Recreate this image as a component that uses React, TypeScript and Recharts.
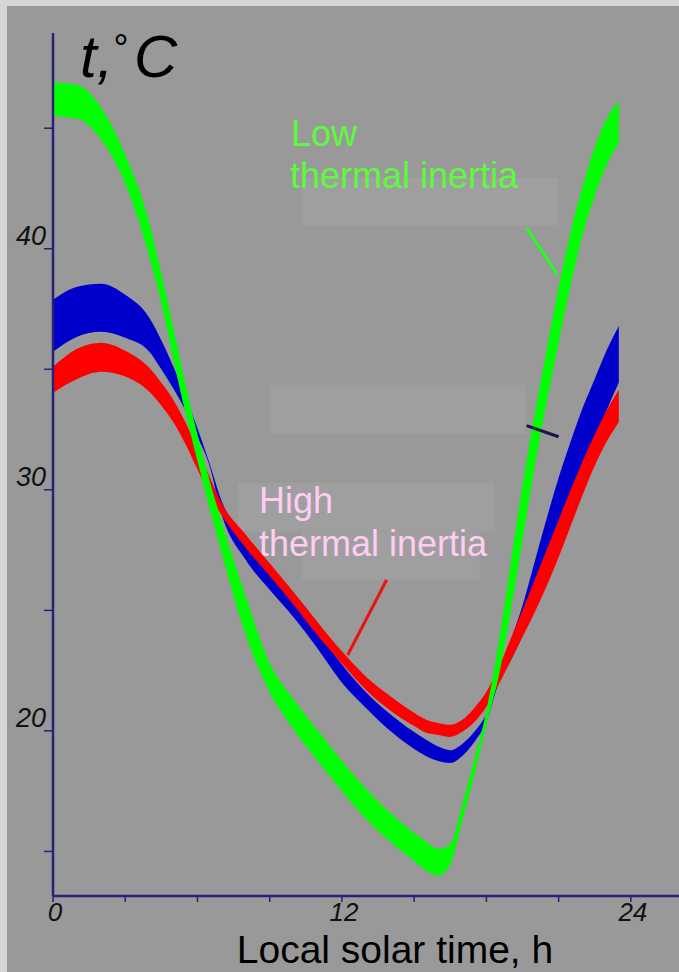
import React from 'react';
import { ComposedChart, Area, XAxis, YAxis, ReferenceArea, ReferenceLine } from 'recharts';

// Local solar time, h
const hours = [0, 1, 2, 3, 4, 4.5, 5, 5.5, 6, 6.5, 7, 8, 9, 10, 11, 12, 13, 14, 15, 15.5, 16, 16.5, 17, 17.5, 18, 18.5, 19, 19.5, 20, 20.5, 21, 21.5, 22, 22.5, 23, 23.5];

// Low thermal inertia (green band)
const lowHi = [46.9, 46.8, 45.85, 43.9, 41.08, 38.96, 36.7, 34.4, 32.3, 30.4, 28.7, 25.6, 22.8, 21.3, 20.0, 18.75, 17.6, 16.6, 15.75, 15.4, 15.1, 15.3, 16.96, 18.8, 20.83, 23.6, 26.9, 30.2, 33.1, 35.8, 38.4, 40.7, 42.6, 44.2, 45.4, 46.1];
const lowLo = [45.5, 45.4, 44.52, 42.7, 39.67, 37.76, 35.4, 33.2, 31.2, 29.25, 27.4, 24.0, 21.6, 20.05, 18.75, 17.5, 16.35, 15.4, 14.6, 14.2, 14.0, 14.45, 16.27, 18.17, 20.25, 22.2, 24.9, 27.9, 30.9, 33.6, 36.1, 38.5, 40.6, 42.2, 43.5, 44.4];

// Intermediate (blue band)
const midHi = [37.88, 38.42, 38.55, 38.09, 37.14, 36.2, 35.1, 33.9, 32.55, 31.1, 29.55, 27.95, 26.7, 25.5, 24.1, 22.75, 21.6, 20.7, 19.95, 19.63, 19.35, 19.2, 19.46, 19.96, 20.7, 22.1, 23.7, 25.2, 27.0, 28.8, 30.5, 32.0, 33.4, 34.6, 35.8, 36.8];
const midLo = [35.73, 36.35, 36.56, 36.31, 35.73, 35.0, 34.2, 33.3, 32.2, 31.0, 29.0, 27.1, 25.85, 24.7, 23.4, 22.0, 20.95, 20.0, 19.25, 18.95, 18.75, 18.67, 18.96, 19.54, 20.37, 21.95, 22.9, 23.95, 25.2, 26.55, 27.95, 29.35, 30.7, 32.0, 33.3, 34.45];

// High thermal inertia (red band)
const highHi = [35.1, 35.85, 36.1, 35.77, 35.06, 34.44, 33.73, 32.8, 31.7, 30.55, 29.45, 28.15, 26.95, 25.75, 24.5, 23.3, 22.25, 21.45, 20.75, 20.46, 20.33, 20.25, 20.46, 20.95, 21.62, 22.6, 23.8, 25.0, 26.25, 27.5, 28.75, 30.0, 31.2, 32.3, 33.3, 34.15];
const highLo = [34.02, 34.6, 34.9, 34.7, 34.07, 33.5, 32.8, 31.9, 30.85, 29.8, 28.95, 27.6, 26.42, 25.22, 23.95, 22.8, 21.7, 20.85, 20.2, 19.92, 19.83, 19.75, 19.96, 20.37, 21.0, 21.9, 22.9, 23.9, 24.9, 26.0, 27.2, 28.5, 29.8, 31.0, 32.0, 32.8];

const xTicks = [0, 3, 6, 9, 12, 15, 18, 21, 24];
const xTickLabels = ['0', '12', '24'];
const yTicks = [15, 20, 25, 30, 35, 40, 45];
const yTickLabels = ['20', '30', '40'];

// annotation boxes / pointers in data units
const boxes = [
  { x1: 10.33, x2: 20.95, y1: 40.95, y2: 42.95 },
  { x1: 9.0, x2: 19.63, y1: 32.32, y2: 34.36 },
  { x1: 7.68, x2: 18.34, y1: 28.26, y2: 30.29 },
  { x1: 10.33, x2: 17.72, y1: 26.27, y2: 28.26 },
];
const pointers = [
  { a: { x: 19.67, y: 40.87 }, b: { x: 20.95, y: 38.92 }, color: '#22ff22' },
  { a: { x: 19.67, y: 32.66 }, b: { x: 21.0, y: 32.2 }, color: '#141450' },
  { a: { x: 13.86, y: 26.27 }, b: { x: 12.24, y: 23.15 }, color: '#ee1111' },
];

const data = hours.map((h, i) => ({
  h,
  low: [lowLo[i], lowHi[i]],
  mid: [midLo[i], midHi[i]],
  high: [highLo[i], highHi[i]],
}));

const AX = '#23237a';
const FONT = '"Liberation Sans", Arial, sans-serif';

const XTick = (props: any) => {
  const { x, y, payload } = props;
  const s = String(payload.value);
  if (!xTickLabels.includes(s)) return <g />;
  return (
    <text x={x + 2} y={y + 17} textAnchor="middle" fontStyle="italic" fontSize={26} fontFamily={FONT} fill="#111">
      {s}
    </text>
  );
};

const YTick = (props: any) => {
  const { x, y, payload } = props;
  const s = String(payload.value);
  if (!yTickLabels.includes(s)) return <g />;
  return (
    <text x={x + 4} y={y - 4} textAnchor="end" fontStyle="italic" fontSize={27} fontFamily={FONT} fill="#111">
      {s}
    </text>
  );
};

export default function App() {
  return (
    <div style={{ position: 'absolute', left: 0, top: 0, width: 679, height: 972, background: '#d6d6d6', overflow: 'hidden' }}>
      <div style={{ position: 'absolute', left: 7, top: 6, width: 672, height: 966, background: '#999999' }} />
      <div style={{ position: 'absolute', left: 0, top: 0 }}>
        <ComposedChart width={679} height={972} data={data} margin={{ top: 33, right: 0, bottom: 46, left: 23 }}>
          {boxes.map((b, i) => (
            <ReferenceArea key={'b' + i} x1={b.x1} x2={b.x2} y1={b.y1} y2={b.y2} fill="#9f9f9f" fillOpacity={1} stroke="none" />
          ))}
          <XAxis
            type="number"
            dataKey="h"
            domain={[0, 26]}
            ticks={xTicks}
            allowDataOverflow
            height={30}
            axisLine={{ stroke: AX, strokeWidth: 2.5 }}
            tickLine={{ stroke: AX, strokeWidth: 1.5 }}
            tickSize={6}
            tick={XTick}
            interval={0}
          />
          <YAxis
            type="number"
            domain={[13.15, 48.95]}
            ticks={yTicks}
            allowDataOverflow
            width={30}
            axisLine={{ stroke: AX, strokeWidth: 2.5 }}
            tickLine={{ stroke: AX, strokeWidth: 1.5 }}
            tickSize={9}
            tick={YTick}
            interval={0}
          />
          <Area type="monotone" dataKey="mid" stroke="none" fill="#0000cc" fillOpacity={1} isAnimationActive={false} />
          <Area type="monotone" dataKey="high" stroke="none" fill="#ff0000" fillOpacity={1} isAnimationActive={false} />
          <Area type="monotone" dataKey="low" stroke="none" fill="#00ff00" fillOpacity={1} isAnimationActive={false} />
          {pointers.map((p, i) => (
            <ReferenceLine key={'p' + i} segment={[p.a, p.b]} stroke={p.color} strokeWidth={3} />
          ))}
        </ComposedChart>
      </div>
      <svg width={679} height={972} style={{ position: 'absolute', left: 0, top: 0, pointerEvents: 'none' }}>
        <text x={80} y={77} fontFamily={FONT} fontStyle="italic" fill="#000" fontSize={60}>t,</text>
        <text x={112} y={61} fontFamily={FONT} fontStyle="italic" fill="#000" fontSize={38}>°</text>
        <text x={134} y={77} fontFamily={FONT} fontStyle="italic" fill="#000" fontSize={60}>C</text>
        <text x={291} y={146} fontFamily={FONT} fontSize={36} fill="#5cfc3c">Low</text>
        <text x={290} y={188} fontFamily={FONT} fontSize={36} fill="#5cfc3c">thermal inertia</text>
        <text x={259} y={513} fontFamily={FONT} fontSize={36} fill="#ffccf4">High</text>
        <text x={259} y={556} fontFamily={FONT} fontSize={36} fill="#ffccf4">thermal inertia</text>
        <text x={395} y={963} textAnchor="middle" fontFamily={FONT} fontSize={39} fill="#000">Local solar time, h</text>
      </svg>
    </div>
  );
}
